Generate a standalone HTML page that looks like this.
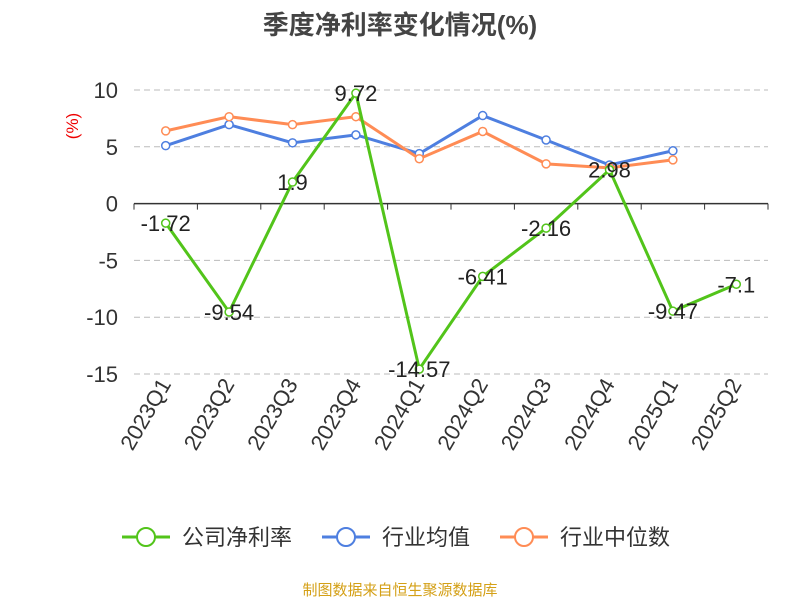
<!DOCTYPE html>
<html><head><meta charset="utf-8"><style>
body{margin:0;background:#fff;font-family:"Liberation Sans","Noto Sans CJK SC",sans-serif}
</style></head><body>
<svg id="chart" width="800" height="600" xmlns="http://www.w3.org/2000/svg" style="font-family:'Liberation Sans','Noto Sans CJK SC',sans-serif">
<text x="400" y="34" text-anchor="middle" font-size="26" font-weight="bold" fill="#444">季度净利率变化情况(%)</text>
<text transform="translate(78,126) rotate(-90)" text-anchor="middle" font-size="17" fill="#e00">(%)</text>
<g id="grid"></g><g id="axes"></g><g id="series"></g><g id="labels"></g>
<g>
<g><line x1="122" y1="537" x2="170" y2="537" stroke="#52c41a" stroke-width="3"/><circle cx="146" cy="537" r="9" fill="#fff" stroke="#52c41a" stroke-width="2"/><text x="182" y="545" font-size="22" fill="#333">公司净利率</text></g>
<g><line x1="322" y1="537" x2="370" y2="537" stroke="#4e7fe0" stroke-width="3"/><circle cx="346" cy="537" r="9" fill="#fff" stroke="#4e7fe0" stroke-width="2"/><text x="382" y="545" font-size="22" fill="#333">行业均值</text></g>
<g><line x1="500" y1="537" x2="548" y2="537" stroke="#ff8c55" stroke-width="3"/><circle cx="524" cy="537" r="9" fill="#fff" stroke="#ff8c55" stroke-width="2"/><text x="560" y="545" font-size="22" fill="#333">行业中位数</text></g>
</g>
<text x="400" y="595" text-anchor="middle" font-size="15" fill="#d4a017">制图数据来自恒生聚源数据库</text>
</svg>
<script>
const categories=["2023Q1","2023Q2","2023Q3","2023Q4","2024Q1","2024Q2","2024Q3","2024Q4","2025Q1","2025Q2"];
const companyValues=[-1.72,-9.54,1.9,9.72,-14.57,-6.41,-2.16,2.98,-9.47,-7.1];
const companyLabels=["-1.72","-9.54","1.9","9.72","-14.57","-6.41","-2.16","2.98","-9.47","-7.1"];
const industryAvg=[5.1,6.95,5.35,6.05,4.4,7.75,5.6,3.4,4.65];
const industryMedian=[6.4,7.65,6.95,7.65,3.95,6.35,3.5,3.15,3.85];
const yTicks=[10,5,0,-5,-10,-15];
const NS="http://www.w3.org/2000/svg";
const L=134,R=768,T=90,B=374,yMax=10,yMin=-15;
const bw=(R-L)/categories.length;
const x=i=>L+bw*(i+0.5);
const y=v=>T+(yMax-v)/(yMax-yMin)*(B-T);
function mk(tag,attrs,parent){const e=document.createElementNS(NS,tag);for(const k in attrs)e.setAttribute(k,attrs[k]);document.getElementById(parent).appendChild(e);return e;}
yTicks.forEach(v=>{
 if(v!==0){const g=mk('line',{x1:L,x2:R,y1:y(v),y2:y(v),stroke:'#bbb','stroke-dasharray':'6,4'},'grid');
 
 }
 const t=mk('text',{x:118,y:y(v)+8,'text-anchor':'end','font-size':22,fill:'#333'},'axes');t.textContent=v;
 
 
});
const ax=mk('line',{x1:L,x2:R,y1:y(0),y2:y(0),stroke:'#333','stroke-width':1.5},'axes');


for(let i=0;i<=categories.length;i++){const tk=mk('line',{x1:L+bw*i,x2:L+bw*i,y1:y(0),y2:y(0)+6,stroke:'#333'},'axes');
 
 }
categories.forEach((c,i)=>{const t=mk('text',{transform:`translate(${x(i)+6},${B+10}) rotate(-60)`,'text-anchor':'end','font-size':22,fill:'#333'},'axes');t.textContent=c;
 
 });
function series(vals,color,name){
 const p=mk('polyline',{points:vals.map((v,i)=>x(i)+','+y(v)).join(' '),fill:'none',stroke:color,'stroke-width':3},'series');
 
 
 vals.forEach((v,i)=>{const c=mk('circle',{cx:x(i),cy:y(v),r:4,fill:'#fff',stroke:color,'stroke-width':1.5},'series');
 
 });
}
series(industryAvg,'#4e7fe0','industry-average');
series(industryMedian,'#ff8c55','industry-median');
series(companyValues,'#52c41a','company-net-margin');
companyValues.forEach((v,i)=>{const t=mk('text',{x:x(i),y:y(v)+8,'text-anchor':'middle','font-size':22,fill:'#222'},'labels');t.textContent=companyLabels[i];
 
 });
</script>
</body></html>
